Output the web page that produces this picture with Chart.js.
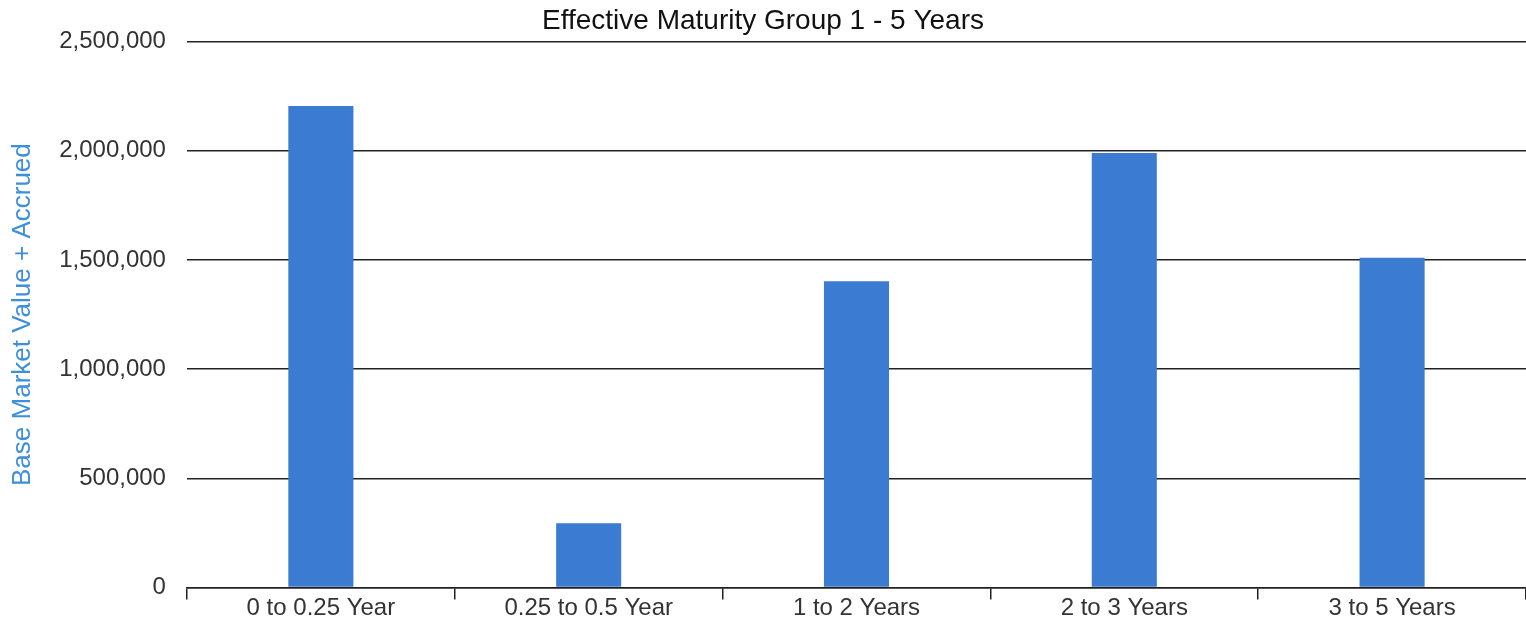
<!DOCTYPE html>
<html>
<head>
<meta charset="utf-8">
<script src="https://cdn.jsdelivr.net/npm/chart.js@4"></script>
<style>
  html, body { margin: 0; padding: 0; background: #fff; }
  #wrap { width: 1526px; height: 623px; }
</style>
</head>
<body>
<div id="wrap"><canvas id="chart"></canvas></div>
<script>
var ctx = document.getElementById("chart").getContext("2d");

var categories = ["0 to 0.25 Year", "0.25 to 0.5 Year", "1 to 2 Years", "2 to 3 Years", "3 to 5 Years"];
var values = [2205000, 295000, 1403000, 1990000, 1510000];

Chart.defaults.font.family = "'Liberation Sans', Arial, sans-serif";

var chart = new Chart(ctx, {
  type: "bar",
  data: {
    labels: categories,
    datasets: [
      {
        label: "Base Market Value + Accrued",
        data: values,
        backgroundColor: "#3c7bd2",
        barPercentage: 0.3,
        categoryPercentage: 0.81
      }
    ]
  },
  options: {
    responsive: true,
    maintainAspectRatio: false,
    animation: false,
    layout: { padding: { left: 0, right: 0, top: 0, bottom: 2 } },
    plugins: {
      legend: { display: false },
      tooltip: { enabled: false },
      title: {
        display: true,
        text: "Effective Maturity Group 1 - 5 Years",
        color: "#111",
        font: { size: 28, weight: "normal" },
        padding: { top: 4, bottom: 4 }
      }
    },
    scales: {
      x: {
        grid: { drawOnChartArea: false, drawTicks: true, tickLength: 12, color: "#222", lineWidth: 1.5 },
        border: { display: true, color: "#222", width: 1.5 },
        ticks: { color: "#333", font: { size: 24 }, padding: -6 }
      },
      y: {
        min: 0,
        max: 2500000,
        grid: { drawTicks: false, color: "#222", lineWidth: 1.5 },
        border: { display: false },
        ticks: {
          stepSize: 500000,
          color: "#333",
          font: { size: 24 },
          padding: 21,
          callback: (v) => v.toLocaleString("en-US")
        },
        title: {
          display: true,
          text: "Base Market Value + Accrued",
          color: "#3d8fdc",
          font: { size: 26 },
          padding: { top: 7, bottom: 0 }
        }
      }
    }
  }
});
</script>
</body>
</html>
